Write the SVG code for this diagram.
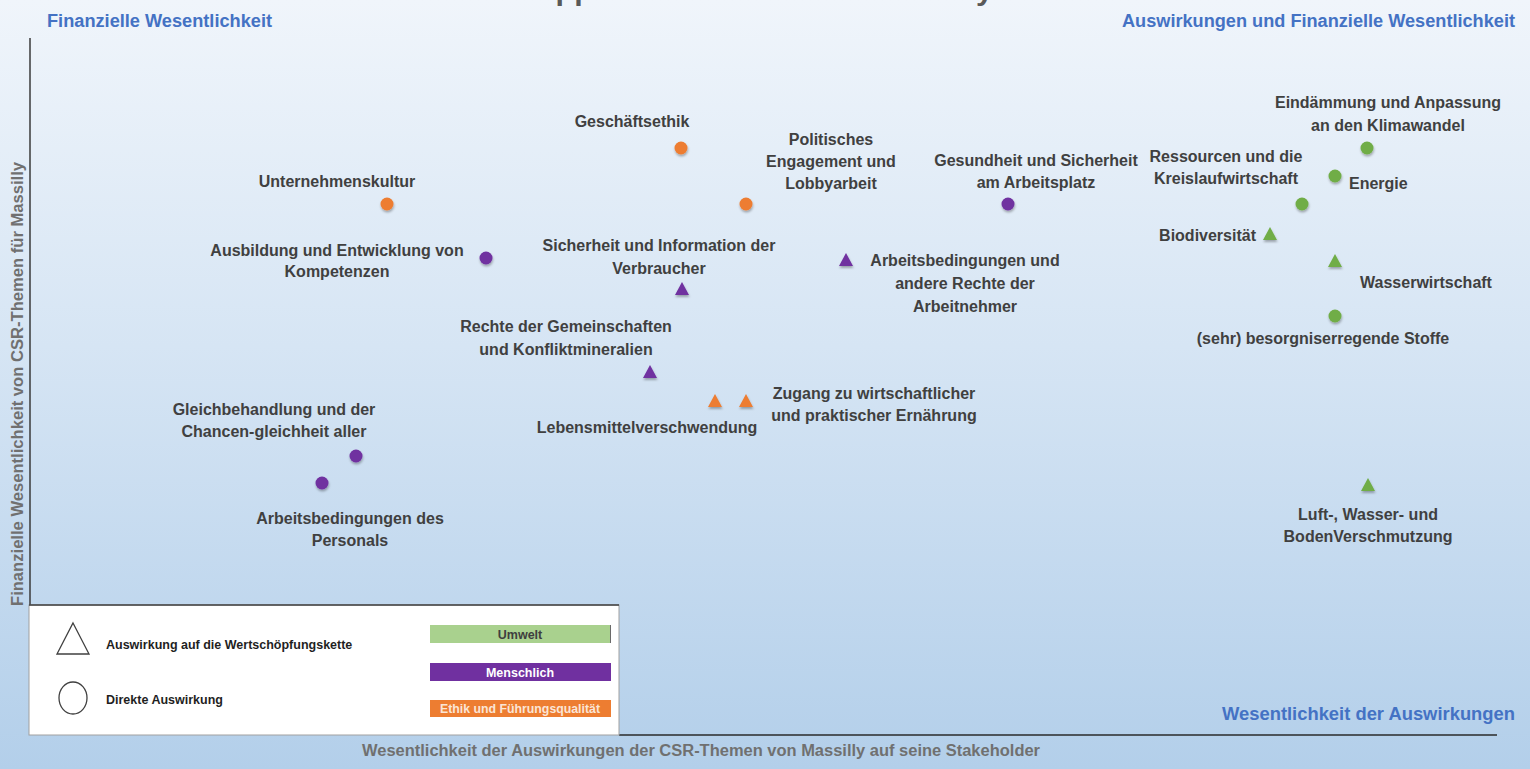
<svg xmlns="http://www.w3.org/2000/svg" width="1530" height="769" viewBox="0 0 1530 769">
<defs>
<linearGradient id="bg" x1="0" y1="0" x2="0" y2="1">
<stop offset="0" stop-color="#f0f5fb"/>
<stop offset="0.45" stop-color="#d6e5f4"/>
<stop offset="1" stop-color="#b3cfea"/>
</linearGradient>
<filter id="sh" x="-50%" y="-50%" width="200%" height="200%">
<feDropShadow dx="0.5" dy="2" stdDeviation="1.2" flood-color="#000" flood-opacity="0.3"/>
</filter>
<circle id="dot" r="6.5"/>
<path id="tri" d="M0,-7 L7,6 L-7,6 Z"/>
</defs>
<style>
text{font-family:"Liberation Sans",Arial,sans-serif;font-weight:bold}
.lbl{font-size:16px;fill:#404040;text-anchor:middle}
.lbs{font-size:16px;fill:#404040}
.hdr{font-size:17.5px;fill:#4472c4}
.ax{font-size:16px;fill:#707070}
.lg{font-size:12.5px;fill:#1f1f1f}
.bar{font-size:12.5px;text-anchor:middle}
.o{fill:#ed7d31;filter:url(#sh)}
.p{fill:#7030a0;filter:url(#sh)}
.g{fill:#70ad47;filter:url(#sh)}
</style>
<rect x="0" y="0" width="1530" height="769" fill="url(#bg)"/>
<text x="515" y="0" font-size="27" fill="#595959" textLength="478" lengthAdjust="spacingAndGlyphs">Doppelte Wesentlichkeit Massilly</text>

<g id="axes">
<line x1="30" y1="38" x2="30" y2="606" stroke="#3a3a3a" stroke-width="1.5"/>
<line x1="619" y1="735" x2="1497" y2="735" stroke="#2a2a2a" stroke-width="1.5"/>
<text class="hdr" x="47" y="27" textLength="225" lengthAdjust="spacingAndGlyphs">Finanzielle Wesentlichkeit</text>
<text class="hdr" x="1122" y="27" textLength="393" lengthAdjust="spacingAndGlyphs">Auswirkungen und Finanzielle Wesentlichkeit</text>
<text class="hdr" x="1222" y="720" font-size="18.5" textLength="293" lengthAdjust="spacingAndGlyphs">Wesentlichkeit der Auswirkungen</text>
<text class="ax" x="362" y="756" textLength="678" lengthAdjust="spacingAndGlyphs">Wesentlichkeit der Auswirkungen der CSR-Themen von Massilly auf seine Stakeholder</text>
<text class="ax" transform="translate(23,606) rotate(-90)" textLength="444" lengthAdjust="spacingAndGlyphs">Finanzielle Wesentlichkeit von CSR-Themen für Massilly</text>
</g>

<g id="legend">
<rect x="29" y="605" width="590" height="130" fill="#ffffff" stroke="#a0a0a0" stroke-width="1"/>
<line x1="29" y1="605" x2="619" y2="605" stroke="#404040" stroke-width="1.5"/>
<path d="M73,623 L89,654 L57,654 Z" fill="none" stroke="#404040" stroke-width="1.3"/>
<ellipse cx="73" cy="698" rx="14" ry="16" fill="none" stroke="#404040" stroke-width="1.3"/>
<text class="lg" x="106" y="649">Auswirkung auf die Wertschöpfungskette</text>
<text class="lg" x="106" y="704">Direkte Auswirkung</text>
<rect x="430" y="625" width="181" height="18" fill="#a9d18e"/>
<line x1="610.5" y1="625" x2="610.5" y2="643" stroke="#6a6a6a" stroke-width="1"/>
<text class="bar" x="520" y="638.5" fill="#3f3f3f">Umwelt</text>
<rect x="430" y="663" width="181" height="18" fill="#7030a0"/>
<text class="bar" x="520" y="676.5" fill="#ffffff">Menschlich</text>
<rect x="430" y="700" width="181" height="17" fill="#ed7d31"/>
<text class="bar" x="520" y="713" fill="#fbe5d6" textLength="160" lengthAdjust="spacingAndGlyphs">Ethik und Führungsqualität</text>
</g>

<g id="connectors"></g>

<g id="n-geschaeftsethik">
<use href="#dot" x="681" y="148" class="o"/>
<text class="lbl" x="632" y="127">Geschäftsethik</text>
</g>
<g id="n-politisches">
<use href="#dot" x="746" y="204" class="o"/>
<text class="lbl" x="831" y="145">Politisches</text>
<text class="lbl" x="831" y="167">Engagement und</text>
<text class="lbl" x="831" y="189">Lobbyarbeit</text>
</g>
<g id="n-unternehmenskultur">
<use href="#dot" x="387" y="204" class="o"/>
<text class="lbl" x="337" y="187">Unternehmenskultur</text>
</g>
<g id="n-ausbildung">
<use href="#dot" x="486" y="258" class="p"/>
<text class="lbl" x="337" y="256">Ausbildung und Entwicklung von</text>
<text class="lbl" x="337" y="277">Kompetenzen</text>
</g>
<g id="n-gesundheit">
<use href="#dot" x="1008" y="204" class="p"/>
<text class="lbl" x="1036" y="166">Gesundheit und Sicherheit</text>
<text class="lbl" x="1036" y="188">am Arbeitsplatz</text>
</g>
<g id="n-verbraucher">
<use href="#tri" x="682" y="289" class="p"/>
<text class="lbl" x="659" y="251">Sicherheit und Information der</text>
<text class="lbl" x="659" y="274">Verbraucher</text>
</g>
<g id="n-arbeitnehmer">
<use href="#tri" x="846" y="260" class="p"/>
<text class="lbl" x="965" y="266">Arbeitsbedingungen und</text>
<text class="lbl" x="965" y="289">andere Rechte der</text>
<text class="lbl" x="965" y="312">Arbeitnehmer</text>
</g>
<g id="n-gemeinschaften">
<use href="#tri" x="650" y="372" class="p"/>
<text class="lbl" x="566" y="332">Rechte der Gemeinschaften</text>
<text class="lbl" x="566" y="355">und Konfliktmineralien</text>
</g>
<g id="n-lebensmittel">
<use href="#tri" x="715" y="401" class="o"/>
<text class="lbl" x="647" y="433">Lebensmittelverschwendung</text>
</g>
<g id="n-ernaehrung">
<use href="#tri" x="746" y="401" class="o"/>
<text class="lbl" x="874" y="399">Zugang zu wirtschaftlicher</text>
<text class="lbl" x="874" y="421">und praktischer Ernährung</text>
</g>
<g id="n-gleichbehandlung">
<use href="#dot" x="356" y="456" class="p"/>
<text class="lbl" x="274" y="415">Gleichbehandlung und der</text>
<text class="lbl" x="274" y="437">Chancen-gleichheit aller</text>
</g>
<g id="n-personal">
<use href="#dot" x="322" y="483" class="p"/>
<text class="lbl" x="350" y="524">Arbeitsbedingungen des</text>
<text class="lbl" x="350" y="546">Personals</text>
</g>
<g id="n-klimawandel">
<use href="#dot" x="1367" y="148" class="g"/>
<text class="lbl" x="1388" y="108">Eindämmung und Anpassung</text>
<text class="lbl" x="1388" y="131">an den Klimawandel</text>
</g>
<g id="n-energie">
<use href="#dot" x="1335" y="176" class="g"/>
<text class="lbs" x="1349" y="189">Energie</text>
</g>
<g id="n-ressourcen">
<use href="#dot" x="1302" y="204" class="g"/>
<text class="lbl" x="1226" y="162">Ressourcen und die</text>
<text class="lbl" x="1226" y="184">Kreislaufwirtschaft</text>
</g>
<g id="n-biodiversitaet">
<use href="#tri" x="1270" y="234" class="g"/>
<text class="lbs" x="1256" y="241" text-anchor="end">Biodiversität</text>
</g>
<g id="n-wasserwirtschaft">
<use href="#tri" x="1335" y="261" class="g"/>
<text class="lbl" x="1426" y="288">Wasserwirtschaft</text>
</g>
<g id="n-stoffe">
<use href="#dot" x="1335" y="316" class="g"/>
<text class="lbl" x="1323" y="344">(sehr) besorgniserregende Stoffe</text>
</g>
<g id="n-verschmutzung">
<use href="#tri" x="1368" y="485" class="g"/>
<text class="lbl" x="1368" y="520">Luft-, Wasser- und</text>
<text class="lbl" x="1368" y="542">BodenVerschmutzung</text>
</g>
</svg>
